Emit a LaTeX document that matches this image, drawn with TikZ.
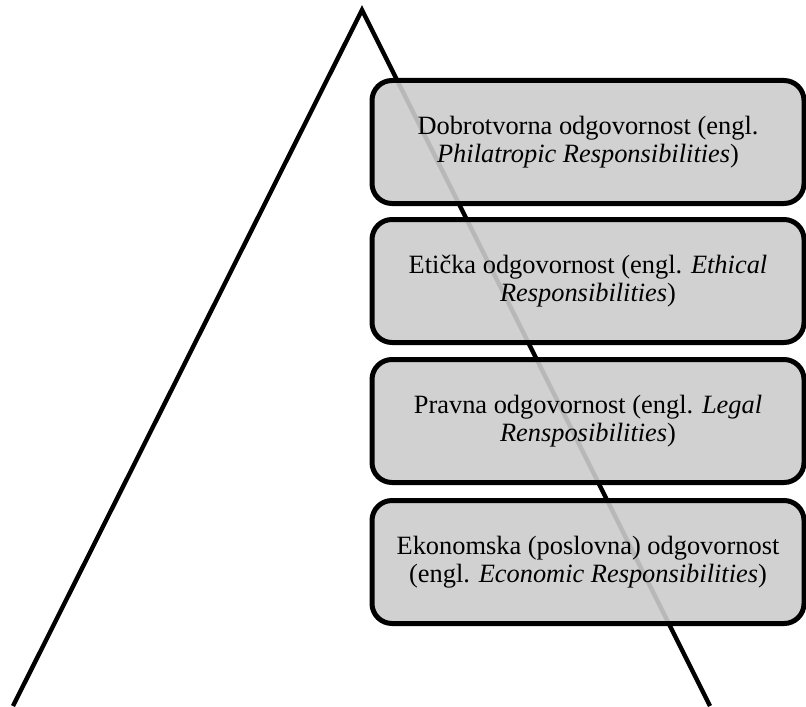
\documentclass[tikz,border=0pt]{standalone}
\usepackage{fontspec}
\setmainfont{Liberation Serif}
\begin{document}
\begin{tikzpicture}[x=0.5pt,y=-0.5pt,
    level/.style={draw, line width=2.5pt, rounded corners=10pt,
      fill=black!20, fill opacity=0.9, text opacity=1,
      minimum width=216pt, minimum height=61.5pt, align=center,
      font=\fontsize{13.2}{14}\selectfont}]
        \useasboundingbox (0,0) rectangle (806,706);
        % pyramid
        \coordinate (apex) at (362,10);
        \coordinate (baseL) at (13,706);
        \coordinate (baseR) at (710,706);
        \draw[line width=2.2pt] (baseL) -- (apex) -- (baseR);

        % levels, top to bottom
        \node[level] (dobro) at (588,142) {Dobrotvorna odgovornost (engl.\\ \emph{Philatropic Responsibilities})};
        \node[level] (eticka) at (588,281) {Etička odgovornost (engl. \emph{Ethical}\\ \emph{Responsibilities})};
        \node[level] (pravna) at (588,421) {Pravna odgovornost (engl. \emph{Legal}\\ \emph{Rensposibilities})};
        \node[level] (ekonom) at (588,562) {Ekonomska (poslovna) odgovornost\\ (engl. \emph{Economic Responsibilities})};
      \end{tikzpicture}
\end{document}
